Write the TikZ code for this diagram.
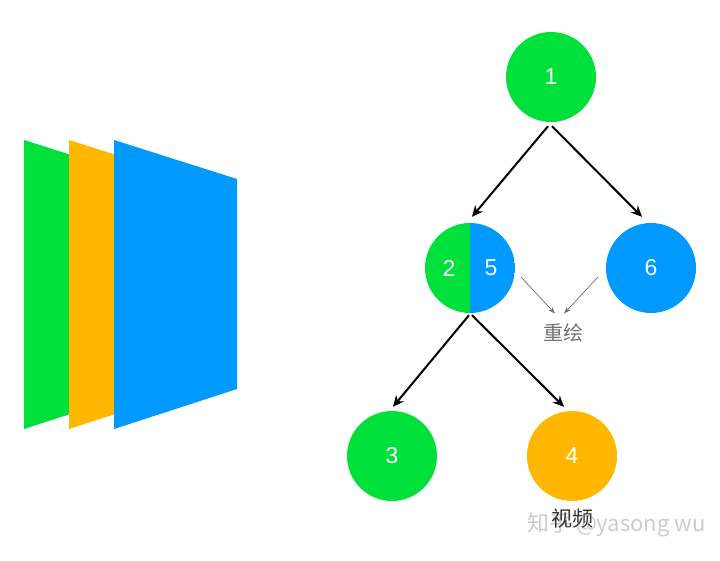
\documentclass[tikz,border=0pt]{standalone}
\usepackage{fontspec}
\setmainfont{Liberation Sans}
\newfontfamily\cjk{Noto Sans CJK SC}
\usetikzlibrary{arrows.meta}
\definecolor{layergreen}{RGB}{0,224,58}
\definecolor{layerorange}{RGB}{255,183,0}
\definecolor{layerblue}{RGB}{0,153,255}
\definecolor{hintgray}{RGB}{112,112,112}
\tikzset{
  ball/.style={circle,minimum size=90pt,inner sep=0pt,text=white,font=\fontsize{23}{23}\selectfont},
  num/.style={text=white,inner sep=0pt,font=\fontsize{23}{23}\selectfont},
  edge/.style={-{Stealth[length=11pt,width=10pt]},line width=2pt},
  hint/.style={-{Stealth[length=7pt,width=5pt]},hintgray,line width=0.7pt}
}
\begin{document}
\begin{tikzpicture}[x=1pt,y=-1pt]
  \useasboundingbox (0,0) rectangle (720,560);
  \pgfmathsetmacro\w{123};
  \foreach \x/\c in {24/layergreen,69/layerorange,114/layerblue} {
      \fill[\c] (\x,140) -- (\x+\w,179) -- (\x+\w,389) -- (\x,429) -- cycle;
  }
  \node[ball,fill=layergreen] (n1) at (551,77) {1};
  \node[ball,path picture={
      \fill[layergreen] (path picture bounding box.north west) rectangle (path picture bounding box.south);
      \fill[layerblue] (path picture bounding box.north) rectangle (path picture bounding box.south east);
    }] (n25) at (470,268) {};
  \node[num] (n2) at (449,268) {2};
  \node[num] (n5) at (491,268) {5};
  \node[ball,fill=layerblue] (n6) at (651,268) {6};
  \node[ball,fill=layergreen] (n3) at (392,456) {3};
  \node[ball,fill=layerorange] (n4) at (572,456) {4};
  \draw[edge] ([xshift=-3pt,yshift=-4pt]n1.south) -- ([xshift=2pt,yshift=6pt]n25.north);
  \draw[edge] ([xshift=1pt,yshift=-4pt]n1.south) -- ([xshift=-9pt,yshift=6pt]n6.north);
  \draw[edge] ([xshift=-1pt,yshift=-2pt]n25.south) -- ([xshift=1pt,yshift=4pt]n3.north);
  \draw[edge] ([xshift=2pt,yshift=-2pt]n25.south) -- ([xshift=-8pt,yshift=4pt]n4.north);
  % redraw hint
  \node[text=hintgray,inner sep=0pt,font=\cjk\fontsize{20}{20}\selectfont] (redraw) at (563,333) {重绘};
  \coordinate (h25) at (521,277);
  \coordinate (h6) at (598,277);
  \draw[hint] (h25) -- ([xshift=-8pt,yshift=10pt]redraw.north);
  \draw[hint] (h6) -- ([xshift=1pt,yshift=10pt]redraw.north);
  \node[text=black!20,inner sep=0pt,anchor=west,font=\cjk\fontsize{22}{22}\selectfont] (mark) at (527,525) {知乎 @yasong wu};
  \node[text=black!80,inner sep=0pt,font=\cjk\fontsize{21}{21}\selectfont] (video) at (572,519) {视频};
\end{tikzpicture}
\end{document}
